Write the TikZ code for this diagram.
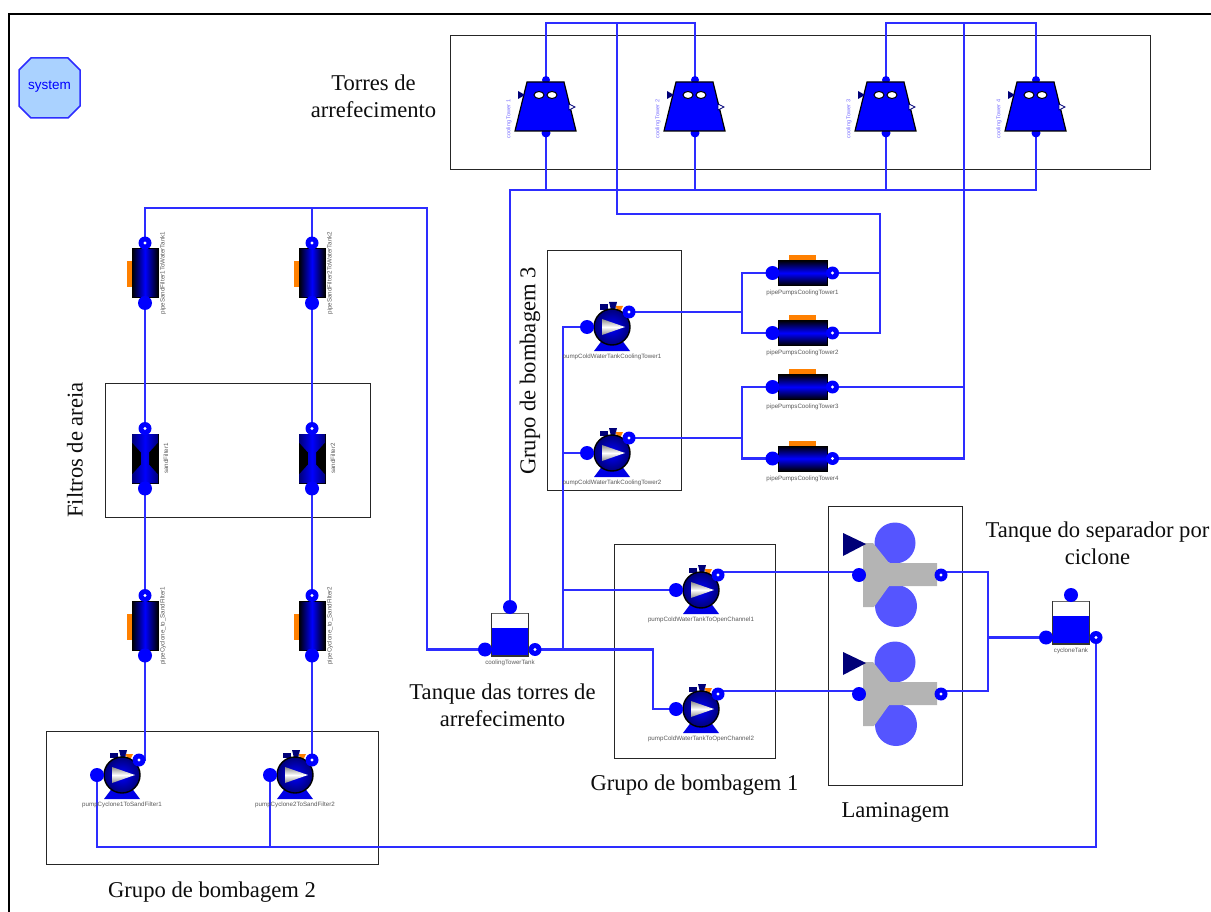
\documentclass[tikz,border=0pt]{standalone}
\usepackage{fontspec}
\setmainfont{Liberation Serif}
\setsansfont{Liberation Sans}
\usetikzlibrary{backgrounds}
\definecolor{portblue}{RGB}{0,0,255}
\definecolor{wireblue}{RGB}{45,45,255}
\definecolor{deepnavy}{RGB}{0,0,120}
\definecolor{lamblue}{RGB}{85,85,255}
\definecolor{lamgrey}{RGB}{180,180,180}
\definecolor{pipeorange}{RGB}{255,128,0}
\definecolor{sysfill}{RGB}{170,210,255}
\definecolor{towerlabel}{RGB}{120,110,255}
\tikzset{
  wire/.style={draw=wireblue,line width=2.4pt,line join=miter},
  groupbox/.style={draw=black!85,line width=0.9pt,inner sep=0pt,fill=none},
  caption/.style={font=\fontsize{22.6}{27.5}\selectfont,align=center,inner sep=0pt,text=black!95},
  tiny/.style={font=\sffamily\fontsize{6.2}{7}\selectfont,text=black!65,inner sep=0pt},
  portin/.pic={\fill[portblue] (0,0) circle[radius=7pt];},
  portout/.pic={\fill[portblue] (0,0) circle[radius=6.5pt];\fill[white] (0,0) circle[radius=1.6pt];},
  pics/towerunit/.style={code={
    \fill[portblue] (0,-27) circle[radius=4pt];
    \fill[portblue] (0,26) circle[radius=4.5pt];
    \draw[fill=portblue,line width=1.2pt] (-19,-25) -- (18,-25) -- (30,24) -- (-31,24) -- cycle;
    \draw[fill=white,line width=1pt] (-7,-12) ellipse[x radius=5pt,y radius=3.5pt];
    \draw[fill=white,line width=1pt] (6,-12) ellipse[x radius=5pt,y radius=3.5pt];
    \fill[deepnavy] (-28,-16) -- (-21,-12) -- (-28,-8) -- cycle;
    \draw[deepnavy,fill=white,line width=0.8pt] (23,-3) -- (29,0) -- (23,3) -- cycle;
    \node[tiny,font=\sffamily\fontsize{5.6}{6}\selectfont,text=towerlabel,rotate=90] at (-37,12) {#1};
    \coordinate (-top) at (0,-27);
    \coordinate (-bot) at (0,26);
  }},
  pics/vpipe/.style={code={
    \fill[pipeorange] (-18,-12) rectangle (-11,14);
    \draw[black,line width=1pt,shading=axis,left color=black,right color=black,middle color=portblue] (-13,-24.5) rectangle (13,24.5);
    \pic at (0,-30) {portout};
    \pic at (0,30) {portin};
    \node[tiny,rotate=90] at (18,0) {#1};
    \coordinate (-out) at (0,-30);
    \coordinate (-in) at (0,30);
  }},
  pics/hpipe/.style={code={
    \fill[pipeorange] (-13.5,-18) rectangle (13,-11);
    \draw[black,line width=1pt,shading=axis,top color=black,bottom color=black,middle color=portblue] (-24.5,-12.5) rectangle (24.5,12.5);
    \pic at (-30,0) {portin};
    \pic at (30,0) {portout};
    \node[tiny] at (0,20) {#1};
    \coordinate (-in) at (-30,0);
    \coordinate (-out) at (30,0);
  }},
  pics/sandunit/.style={code={
    \draw[black,fill=black,line width=1pt] (-13,-24.5) rectangle (13,24.5);
    \shade[left color=deepnavy,right color=deepnavy,middle color=portblue]
      (-13,-24.5) -- (13,-24.5) -- (13,-16) -- (4,-6) -- (4,6) -- (13,16) -- (13,24.5) -- (-13,24.5) -- (-13,16) -- (-4,6) -- (-4,-6) -- (-13,-16) -- cycle;
    \pic at (0,-30) {portout};
    \pic at (0,30) {portin};
    \node[tiny,rotate=90] at (21,0) {#1};
    \coordinate (-out) at (0,-30);
    \coordinate (-in) at (0,30);
  }},
  pics/pumpunit/.style={code={
    \fill[portblue!90!black] (-18,24) -- (18,24) -- (9,12) -- (-9,12) -- cycle;
    \fill[deepnavy] (-12,-22.5) rectangle (-4,-17);
    \fill[deepnavy] (-3,-25) -- (5,-25) -- (3,-17) -- (-1,-17) -- cycle;
    \fill[pipeorange] (3.5,-21) -- (11,-21) -- (7,-13) -- cycle;
    \draw[black,line width=1.4pt,shading=radial,inner color=portblue,outer color=deepnavy] (0,0) circle[radius=18pt];
    \shade[top color=black!45,bottom color=black!45,middle color=white] (-10,-8) -- (13,0) -- (-10,8) -- cycle;
    \pic at (-25,0) {portin};
    \pic at (17,-15) {portout};
    \node[tiny] at (0,30) {#1};
    \coordinate (-in) at (-25,0);
    \coordinate (-out) at (17,-15);
  }},
  pics/tankunit/.style={code={
    \fill[portblue] (-18,15) rectangle (18,42);
    \draw[black!60,line width=1pt] (-18.5,0) -- (18.5,0);
    \draw[black!80,line width=1.2pt] (-18.5,0) -- (-18.5,43) -- (18.5,43) -- (18.5,0);
    \pic at (0,-6) {portin};
    \pic at (-25,36.5) {portin};
    \pic at (25,36.5) {portout};
    \node[tiny] at (0,49.5) {#1};
    \coordinate (-top) at (0,-6);
    \coordinate (-in) at (-25,36.5);
    \coordinate (-out) at (25,36.5);
  }},
  pics/lamunit/.style={code={
    \fill[lamblue] (-1,-32) circle[radius=20.5pt];
    \fill[lamblue] (0,31) circle[radius=21pt];
    \fill[lamgrey] (-33,-32) -- (-23,-32) -- (-7,-12) -- (41,-12) -- (41,11) -- (-7,11) -- (-22,32) -- (-33,32) -- cycle;
    \fill[deepnavy] (-53,-42) -- (-30,-31) -- (-53,-19) -- cycle;
    \pic at (-37,0) {portin};
    \pic at (45,0) {portout};
    \coordinate (-in) at (-37,0);
    \coordinate (-out) at (45,0);
  }},
}
\begin{document}
\begin{tikzpicture}[x=1pt,y=-1pt]
\useasboundingbox (0,0) rectangle (1211,912);

% frame and octagon
\draw[black,line width=2.4pt] (9,912) -- (9,14) -- (1211,14);
\draw[draw=wireblue,fill=sysfill,line width=1.5pt] (31,58) -- (68,58) -- (80,70) -- (80,106) -- (68,118) -- (31,118) -- (19,106) -- (19,70) -- cycle;
\node[font=\sffamily\fontsize{13.5}{15}\selectfont,text=portblue,inner sep=0pt] (sys) at (49.5,87) {system};

% units
\pic (t1) at (546,107) {towerunit={cooling Tower 1}};
\pic (t2) at (695,107) {towerunit={cooling Tower 2}};
\pic (t3) at (886,107) {towerunit={cooling Tower 3}};
\pic (t4) at (1036,107) {towerunit={cooling Tower 4}};

\pic (pu1) at (145,273) {vpipe={pipeSandFilter1ToWaterTank1}};
\pic (pu2) at (312,273) {vpipe={pipeSandFilter2ToWaterTank2}};
\pic (sf1) at (145,458.5) {sandunit={sandFilter1}};
\pic (sf2) at (312,458.5) {sandunit={sandFilter2}};
\pic (pl1) at (145,625.5) {vpipe={pipeCyclone\_to\_SandFilter1}};
\pic (pl2) at (312,625.5) {vpipe={pipeCyclone\_to\_SandFilter2}};
\pic (gp1) at (122,775) {pumpunit={pumpCyclone1ToSandFilter1}};
\pic (gp2) at (295,775) {pumpunit={pumpCyclone2ToSandFilter2}};

\pic (gc1) at (612,327) {pumpunit={pumpColdWaterTankCoolingTower1}};
\pic (gc2) at (612,453) {pumpunit={pumpColdWaterTankCoolingTower2}};
\pic (c1) at (802.5,273) {hpipe={pipePumpsCoolingTower1}};
\pic (c2) at (802.5,333) {hpipe={pipePumpsCoolingTower2}};
\pic (c3) at (802.5,387) {hpipe={pipePumpsCoolingTower3}};
\pic (c4) at (802.5,458.5) {hpipe={pipePumpsCoolingTower4}};

\pic (ctk) at (510,613) {tankunit={coolingTowerTank}};
\pic (cyc) at (1071,601) {tankunit={cycloneTank}};
\pic (pa) at (701,590) {pumpunit={pumpColdWaterTankToOpenChannel1}};
\pic (pb) at (701,709) {pumpunit={pumpColdWaterTankToOpenChannel2}};
\pic (la) at (896,575) {lamunit};
\pic (lb) at (896,694) {lamunit};

% junction coordinates
\coordinate (tj12) at (617,23);
\coordinate (tj34) at (964,23);
\coordinate (bR) at (1036,190);
\coordinate (r1) at (880,214);
\coordinate (bs) at (427,208);
\coordinate (k1) at (653,709);
\coordinate (j1) at (563,649.5);
\coordinate (bb) at (1096,847);
\coordinate (jr) at (988,637.5);
\coordinate (m1) at (742,312);
\coordinate (m2) at (742,438);

% group boxes
\begin{pgfonlayer}{background}
\node[groupbox,minimum width=700pt,minimum height=134pt] (gTorres) at (800,102) {};
\node[groupbox,minimum width=265pt,minimum height=134pt] (gFiltros) at (237.5,450) {};
\node[groupbox,minimum width=134pt,minimum height=240pt] (gB3) at (614,370) {};
\node[groupbox,minimum width=161pt,minimum height=214pt] (gB1) at (694.5,651) {};
\node[groupbox,minimum width=134pt,minimum height=279pt] (gLam) at (895,645.5) {};
\node[groupbox,minimum width=332pt,minimum height=133pt] (gB2) at (212,797.5) {};

% connectors
\draw[wire] (t1-top) |- (tj12) -| (t2-top);
\draw[wire] (t3-top) |- (tj34) -| (t4-top);
\draw[wire] (tj12) |- (r1) |- (c2-out);
\draw[wire] (c1-out) -| (r1);
\draw[wire] (tj34) |- (c4-out);
\draw[wire] (c3-out) -| (tj34);
\draw[wire] (ctk-top) |- (bR) -- (t4-bot);
\draw[wire] (t1-bot) -- (t1-bot |- bR);
\draw[wire] (t2-bot) -- (t2-bot |- bR);
\draw[wire] (t3-bot) -- (t3-bot |- bR);

\draw[wire] (gp1-out) -| (pl1-in);
\draw[wire] (pl1-out) -- (sf1-in);
\draw[wire] (sf1-out) -- (pu1-in);
\draw[wire] (pu1-out) |- (bs) |- (ctk-in);
\draw[wire] (gp2-out) -| (pl2-in);
\draw[wire] (pl2-out) -- (sf2-in);
\draw[wire] (sf2-out) -- (pu2-in);
\draw[wire] (pu2-out) -- (pu2-out |- bs);

\draw[wire] (gp1-in) |- (bb) -- (cyc-out);
\draw[wire] (gp2-in) -- (gp2-in |- bb);

\draw[wire] (ctk-out) -| (k1) -- (pb-in);
\draw[wire] (j1) |- (gc1-in);
\draw[wire] (gc2-in) -- (gc2-in -| j1);
\draw[wire] (pa-in) -- (pa-in -| j1);

\draw[wire] (gc1-out) -- (m1);
\draw[wire] (c1-in) -| (m1) |- (c2-in);
\draw[wire] (gc2-out) -- (m2);
\draw[wire] (c3-in) -| (m2) |- (c4-in);

\draw[wire] ([yshift=3pt]pa-out) -- ([yshift=3pt]la-in);
\draw[wire] ([yshift=3pt]pb-out) -- ([yshift=3pt]lb-in);
\draw[wire] ([yshift=3pt]la-out) -| (jr);
\draw[wire] ([yshift=3pt]lb-out) -| (jr);
\draw[wire] (jr) -- (cyc-in);
\end{pgfonlayer}

% captions
\node[caption] (cTorres) at (373.5,96.5) {Torres de\\arrefecimento};
\node[caption,rotate=90] (cFiltros) at (75,450) {Filtros de areia};
\node[caption,rotate=90] (cB3) at (530,371) {Grupo de bombagem 3};
\node[caption] (cTank) at (502.5,705.5) {Tanque das torres de\\arrefecimento};
\node[caption] (cB1) at (694.5,785) {Grupo de bombagem 1};
\node[caption] (cLam) at (895.5,812) {Laminagem};
\node[caption] (cSep) at (1097.5,543.5) {Tanque do separador por\\ciclone};
\node[caption] (cB2) at (212,892) {Grupo de bombagem 2};
\end{tikzpicture}
\end{document}
